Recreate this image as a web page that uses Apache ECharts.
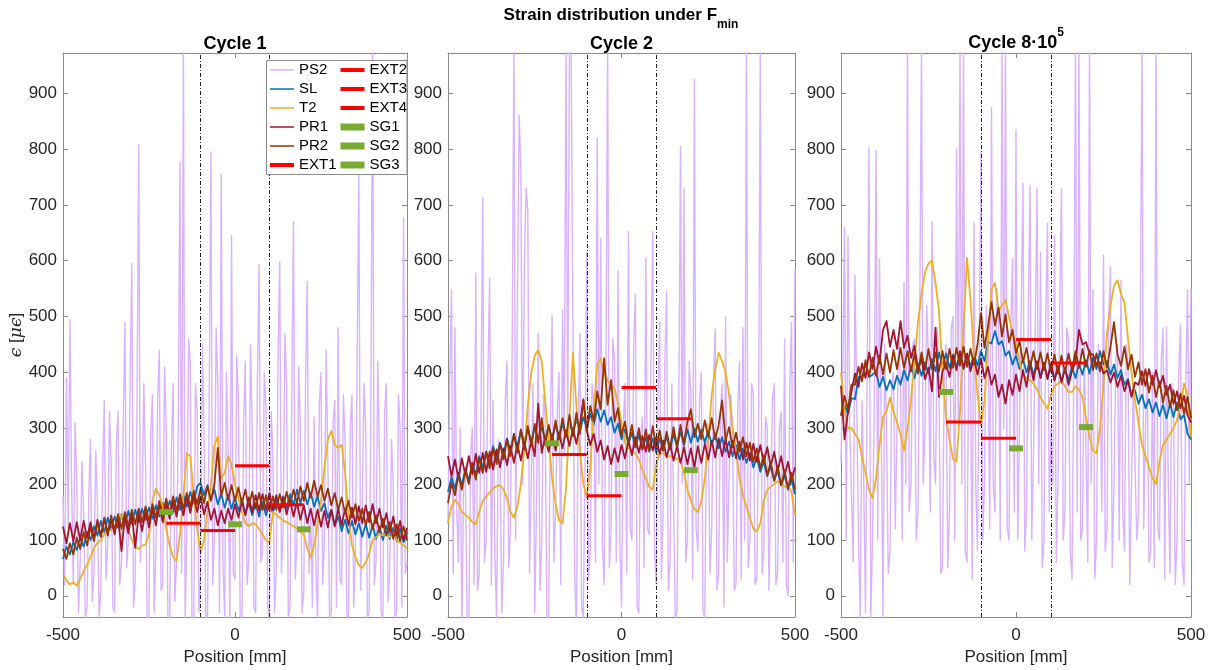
<!DOCTYPE html>
<html>
<head>
<meta charset="utf-8">
<script src="https://cdn.jsdelivr.net/npm/echarts@6/dist/echarts.min.js"></script>
<style>html,body{margin:0;padding:0;background:#fff}#c{width:1215px;height:670px}</style>
</head>
<body>
<div id="c"></div>
<script>
// ---- sample positions [mm] ----
const pos = [-500,-490,-480,-470,-460,-450,-440,-430,-420,-410,-400,-390,-380,-370,-360,-350,-340,-330,-320,-310,-300,-290,-280,-270,-260,-250,-240,-230,-220,-210,-200,-190,-180,-170,-160,-150,-140,-130,-120,-110,-100,-90,-80,-70,-60,-50,-40,-30,-20,-10,0,10,20,30,40,50,60,70,80,90,100,110,120,130,140,150,160,170,180,190,200,210,220,230,240,250,260,270,280,290,300,310,320,330,340,350,360,370,380,390,400,410,420,430,440,450,460,470,480,490,500];
// PS2 fibre positions (finer spacing)
const pos5 = [-500,-495,-490,-485,-480,-475,-470,-465,-460,-455,-450,-445,-440,-435,-430,-425,-420,-415,-410,-405,
-400,-395,-390,-385,-380,-375,-370,-365,-360,-355,-350,-345,-340,-335,-330,-325,-320,-315,-310,-305,
-300,-295,-290,-285,-280,-275,-270,-265,-260,-255,-250,-245,-240,-235,-230,-225,-220,-215,-210,-205,
-200,-195,-190,-185,-180,-175,-170,-165,-160,-155,-150,-145,-140,-135,-130,-125,-120,-115,-110,-105,
-100,-95,-90,-85,-80,-75,-70,-65,-60,-55,-50,-45,-40,-35,-30,-25,-20,-15,-10,-5,
0,5,10,15,20,25,30,35,40,45,50,55,60,65,70,75,80,85,90,95,
100,105,110,115,120,125,130,135,140,145,150,155,160,165,170,175,180,185,190,195,
200,205,210,215,220,225,230,235,240,245,250,255,260,265,270,275,280,285,290,295,
300,305,310,315,320,325,330,335,340,345,350,355,360,365,370,375,380,385,390,395,
400,405,410,415,420,425,430,435,440,445,450,455,460,465,470,475,480,485,490,495,
500];

// ---- Cycle 1 ----
const ps2_c1 = [180,20,390,120,495,200,20,310,205,-30,60,240,150,-40,-20,180,280,-10,40,260,
170,-40,10,220,350,30,90,330,240,-20,-30,270,330,20,60,300,490,50,100,380,
595,-20,30,330,808,60,150,380,230,-50,-40,290,360,-30,80,350,440,10,20,410,
300,-40,-50,260,380,-10,60,300,777,40,990,-50,120,460,420,-40,-60,380,330,-30,
40,450,280,-40,-50,350,795,20,100,480,380,-30,755,60,-40,400,260,-50,645,40,
30,430,350,-40,-60,310,420,20,60,450,300,-20,-30,380,593,60,80,400,340,-20,
-40,330,260,-30,50,420,598,40,120,470,380,-40,-20,350,670,30,90,410,300,-30,
10,380,563,40,150,-20,320,60,-50,340,400,20,100,440,240,-40,-30,310,350,-20,
480,30,20,360,280,-30,-50,300,360,-20,80,420,760,10,150,380,300,-40,-30,340,
1000,20,60,420,250,-30,-40,330,380,-10,50,280,200,-40,-30,360,300,-20,677,40,
60];
const sl_c1 = [66,88,74,96,82,104,88,114,100,124,
108,134,114,140,118,142,122,146,126,152,
130,154,132,156,136,158,138,162,142,166,
146,170,150,176,154,180,160,186,166,196,
202,180,198,172,190,164,182,158,180,156,
176,152,174,146,168,144,166,142,168,144,
166,148,172,152,178,158,182,162,190,166,
188,164,184,160,178,152,166,140,154,126,
142,116,136,112,134,110,130,106,128,104,
126,102,124,100,126,102,122,98,120,96,
114];
const t2_c1 = [38,28,20,24,18,30,45,55,70,85,
95,100,110,120,118,126,132,145,132,118,
100,88,84,90,92,110,170,192,180,160,
120,90,70,62,110,180,255,250,180,120,
78,100,150,200,270,285,210,220,250,235,
200,175,150,130,125,130,128,120,110,100,
95,150,145,140,135,132,128,125,120,115,
110,85,68,90,130,170,230,280,295,270,
265,270,220,140,90,70,55,50,60,75,
100,105,110,108,112,105,110,100,95,90,
85];
const pr1_c1 = [124,94,130,98,132,100,134,104,132,102,
136,106,140,108,138,110,144,80,142,112,
148,86,146,116,152,122,156,126,162,132,
166,138,170,142,174,144,178,148,180,150,
178,146,168,136,156,126,152,130,156,136,
164,140,170,144,176,150,180,152,182,154,
184,154,180,150,176,146,172,142,168,136,
162,130,156,126,154,124,152,122,154,124,
156,126,156,126,158,128,160,130,162,132,
164,130,156,122,148,114,142,108,134,100,
122];
const pr2_c1 = [84,66,94,74,104,84,114,90,124,98,
132,106,138,112,144,116,146,120,150,124,
154,128,156,132,160,134,164,140,170,144,
174,148,178,152,182,156,184,160,188,164,
192,166,196,170,200,265,180,202,172,198,
170,194,166,190,160,186,156,184,154,180,
152,178,154,182,158,186,162,190,166,196,
170,202,176,206,178,198,170,192,162,184,
154,176,148,170,140,164,134,156,126,150,
120,144,114,138,108,132,102,128,98,124,
100];

// ---- Cycle 2 ----
const ps2_c2 = [130,390,548,40,480,160,60,300,-60,200,220,-40,-50,250,300,20,578,10,40,330,
713,60,100,400,568,20,350,80,-40,280,250,-30,60,350,420,50,120,450,990,100,
520,860,763,200,590,730,690,40,200,380,-30,160,470,10,90,360,320,-40,-50,300,
502,60,150,330,400,20,512,250,990,300,990,970,480,40,-60,300,470,-20,-40,250,
615,30,80,380,350,60,820,200,640,90,20,400,990,50,120,460,420,60,582,100,
-20,300,380,40,652,120,100,450,540,-20,-30,280,320,50,605,120,110,430,652,80,
20,350,490,30,150,420,545,10,60,380,380,-40,-30,330,805,200,730,60,100,420,
360,30,925,120,80,350,400,-30,-40,310,300,40,120,380,478,10,40,330,380,-20,
500,60,60,360,300,10,20,340,420,30,480,100,990,50,100,380,360,20,30,300,
990,40,80,320,300,10,10,350,380,20,40,300,330,60,460,20,0,380,490,60,
585];
const sl_c2 = [186,212,192,220,198,228,206,238,216,250,
230,258,238,268,246,274,252,282,260,290,
268,296,274,300,276,302,278,302,280,304,
282,306,284,308,286,310,290,316,294,320,
300,326,306,334,312,332,306,320,292,308,
280,298,272,292,266,288,262,284,258,282,
256,282,260,286,262,290,266,294,270,298,
274,300,276,298,274,296,270,290,264,284,
258,276,250,270,244,264,238,256,230,248,
222,240,214,232,206,224,198,216,190,208,
182];
const t2_c2 = [130,160,172,165,150,145,140,132,128,150,
170,178,185,192,196,198,190,175,150,140,
160,200,260,340,400,430,440,420,350,280,
210,165,135,130,190,320,435,340,260,200,
176,230,330,415,425,400,385,380,370,345,
310,275,265,260,255,245,225,210,195,190,
235,255,255,250,250,248,245,240,220,190,
170,155,150,170,210,280,360,405,435,420,
400,360,300,260,210,180,160,140,120,115,
130,170,190,195,200,205,200,195,200,185,
145];
const pr1_c2 = [250,214,244,210,246,216,250,218,254,220,
256,222,258,226,262,230,264,234,268,238,
272,242,276,246,278,250,344,256,284,258,
288,260,292,264,296,268,300,272,306,350,
296,270,290,258,278,244,268,236,264,240,
270,246,278,252,284,256,286,258,288,260,
284,254,278,248,272,242,268,238,266,236,
264,230,268,238,272,244,278,248,282,250,
280,248,278,246,276,244,274,242,272,240,
270,238,266,232,258,224,250,216,240,206,
230];
const pr2_c2 = [166,202,180,216,190,224,200,238,208,246,
220,258,228,264,236,272,244,280,250,290,
256,298,262,304,268,308,274,318,270,306,
276,314,280,318,284,324,286,328,290,352,
294,340,312,366,334,425,342,386,312,336,
286,312,272,306,266,300,262,298,260,304,
264,296,260,294,264,302,268,306,272,312,
334,284,308,280,314,284,318,280,306,350,
278,302,266,292,258,284,250,274,240,264,
228,252,216,240,206,232,198,224,192,220,
190];

// ---- Cycle 8e5 ----
const ps2_c3 = [240,400,660,100,644,300,300,60,574,350,100,-40,350,200,-30,420,803,-40,100,330,
797,100,603,300,-40,450,300,40,80,380,400,120,120,470,380,100,561,200,990,150,
200,450,460,100,150,500,990,200,300,520,420,150,670,250,200,480,380,40,50,400,
450,50,150,480,500,100,800,300,990,200,990,80,60,420,400,30,668,200,80,450,
794,100,200,520,450,120,874,200,150,550,500,100,990,300,990,120,100,480,603,150,
834,100,300,520,739,80,150,500,735,100,250,480,729,200,615,50,100,500,667,150,
300,200,645,60,200,520,730,100,150,480,460,80,30,400,990,150,990,100,120,450,
450,60,990,200,548,30,100,450,400,150,610,80,120,500,590,50,200,420,450,100,
565,150,80,450,420,20,20,380,380,100,150,460,990,120,300,400,60,80,400,50,
990,120,100,420,480,30,482,200,40,380,350,20,100,400,485,60,20,380,548,200,
548];
const sl_c3 = [322,342,326,354,352,392,390,416,392,396,
402,374,392,368,386,370,394,378,404,386,
410,390,416,394,418,398,424,402,436,410,
434,408,432,410,430,406,432,410,434,412,
438,420,454,452,474,450,456,430,438,414,
430,406,424,400,420,396,416,392,414,390,
410,386,408,384,406,386,410,390,416,396,
422,398,426,406,438,414,420,396,414,390,
404,378,388,360,368,344,360,336,352,328,
346,322,342,318,344,320,346,316,324,290,
280];
const t2_c3 = [400,330,300,300,290,280,250,220,190,175,
210,270,320,330,355,330,310,290,260,300,
350,420,490,540,580,595,600,560,510,400,
320,280,245,240,330,480,605,530,430,360,
305,350,450,550,560,510,520,530,500,470,
450,420,395,390,385,380,370,355,345,335,
360,375,380,385,375,365,365,375,370,355,
320,285,260,255,300,380,470,520,555,565,
540,525,460,400,350,310,270,250,230,210,
200,240,270,280,290,300,315,340,380,360,
285];
const pr1_c3 = [376,280,330,366,398,374,416,390,436,406,
446,416,476,492,446,476,442,492,444,466,
426,448,404,424,388,408,366,480,356,402,
416,392,430,404,438,408,434,402,426,396,
424,390,410,378,396,356,378,344,386,360,
396,366,404,374,416,386,420,390,418,388,
416,386,412,382,408,378,402,420,476,450,
454,434,432,414,418,398,404,382,400,374,
394,366,386,356,382,378,402,376,406,378,
404,374,394,360,378,344,366,336,358,324,
310];
const pr2_c3 = [324,358,334,378,378,410,384,422,392,426,
394,430,396,434,400,440,406,444,408,438,
402,434,398,436,404,442,406,436,402,438,
406,442,408,444,412,446,410,442,414,450,
506,444,482,526,484,516,464,504,454,476,
434,456,418,444,408,438,406,436,404,434,
402,432,398,430,400,434,404,438,408,442,
410,440,404,434,402,438,408,446,490,432,
412,446,406,432,392,418,378,406,364,394,
356,384,346,376,338,368,332,362,326,356,
318];

// ---- extensometers and strain gauges ----
const extNames = ['EXT1','EXT2','EXT3','EXT4'];
const extRanges = [[-200,-100],[-100,0],[0,100],[100,200]];
const ext_c1 = [130,117,233,163];
const ext_c2 = [253,179,373,317];
const ext_c3 = [311,282,459,417];
const sgNames = ['SG1','SG2','SG3'];
const sgRanges = [[-220,-180],[-20,20],[180,220]];
const sg_c1 = [150,128,119];
const sg_c2 = [273,218,225];
const sg_c3 = [365,264,302];
const zoneBounds = [-100,100];

const FONT = '"Liberation Sans", Arial, Helvetica, sans-serif';
const COL = {PS2:'#d9b3ff', SL:'#0072bd', T2:'#edb120', PR1:'#a2142f', PR2:'#993300', EXT:'#ff0000', SG:'#77ac30'};
const AXC = '#8c8c8c', TXT = '#262626';

const panels = [
  {left:63, width:344, ps2:ps2_c1, sl:sl_c1, t2:t2_c1, pr1:pr1_c1, pr2:pr2_c1, ext:ext_c1, sg:sg_c1},
  {left:448, width:347, ps2:ps2_c2, sl:sl_c2, t2:t2_c2, pr1:pr1_c2, pr2:pr2_c2, ext:ext_c2, sg:sg_c2},
  {left:841, width:350, ps2:ps2_c3, sl:sl_c3, t2:t2_c3, pr1:pr1_c3, pr2:pr2_c3, ext:ext_c3, sg:sg_c3}
];
const TOP = 53, HEIGHT = 564, YMIN = -38, YMAX = 972;

function zip(xs, v){ return xs.map((x,i)=>[x, v[i]]); }

const grid = [], xAxis = [], yAxis = [], series = [];
panels.forEach((p, i) => {
  grid.push({left:p.left, top:TOP, width:p.width, height:HEIGHT, containLabel:false, outerBoundsMode:'none'});
  const xb = {type:'value', gridIndex:i, min:-500, max:500, interval:500, position:'bottom',
    axisLine:{show:true, onZero:false, lineStyle:{color:AXC, width:1}},
    axisTick:{show:true, inside:true, length:5, lineStyle:{color:AXC}},
    axisLabel:{show:true, fontSize:17, color:TXT, fontFamily:FONT, margin:10},
    splitLine:{show:false},
    name:'Position [mm]', nameLocation:'middle', nameGap:32,
    nameTextStyle:{fontSize:17, color:TXT, fontFamily:FONT}};
  const xt = {type:'value', gridIndex:i, min:-500, max:500, interval:500, position:'top',
    axisLine:{show:true, onZero:false, lineStyle:{color:AXC, width:1}},
    axisTick:{show:true, inside:true, length:5, lineStyle:{color:AXC}},
    axisLabel:{show:false}, splitLine:{show:false}};
  xAxis.push(xb, xt);
  const yl = {type:'value', gridIndex:i, min:YMIN, max:YMAX, splitNumber:10, position:'left',
    axisLine:{show:true, onZero:false, lineStyle:{color:AXC, width:1}},
    axisTick:{show:true, inside:true, length:5, lineStyle:{color:AXC}},
    axisLabel:{show:true, fontSize:17, color:TXT, fontFamily:FONT, margin:6, showMinLabel:false, showMaxLabel:false},
    splitLine:{show:false}};
  if (i === 0) {
    yl.name = '{i|\u03f5} [{i|\u03bc\u03f5}]';
    yl.nameLocation = 'middle';
    yl.nameGap = 34;
    yl.nameRotate = 90;
    yl.nameTextStyle = {fontSize:17, color:TXT, fontFamily:FONT,
      rich:{i:{fontStyle:'italic', fontSize:17, color:TXT, fontFamily:'"DejaVu Serif", serif'}}};
  }
  const yr = {type:'value', gridIndex:i, min:YMIN, max:YMAX, splitNumber:10, position:'right',
    axisLine:{show:true, onZero:false, lineStyle:{color:AXC, width:1}},
    axisTick:{show:true, inside:true, length:5, lineStyle:{color:AXC}},
    axisLabel:{show:false}, splitLine:{show:false}};
  yAxis.push(yl, yr);

  const xi = 2*i, yi = 2*i;
  const ln = (name, data, color, width, z) => ({
    name, type:'line', xAxisIndex:xi, yAxisIndex:yi, data, symbol:'none', showSymbol:false,
    lineStyle:{color, width, join:'round'}, itemStyle:{color}, z, silent:true, animation:false,
    emphasis:{disabled:true}
  });
  series.push(ln('PS2', zip(pos5, p.ps2), COL.PS2, 1.4, 2));
  series.push(ln('SL', zip(pos, p.sl), COL.SL, 1.8, 3));
  series.push(ln('T2', zip(pos, p.t2), COL.T2, 1.8, 3));
  series.push(ln('PR1', zip(pos, p.pr1), COL.PR1, 1.8, 3));
  series.push(ln('PR2', zip(pos, p.pr2), COL.PR2, 1.8, 3));
  extNames.forEach((n, k) => {
    series.push(ln(n, [[extRanges[k][0], p.ext[k]], [extRanges[k][1], p.ext[k]]], COL.EXT, 3, 4));
  });
  sgNames.forEach((n, k) => {
    series.push(ln(n, [[sgRanges[k][0], p.sg[k]], [sgRanges[k][1], p.sg[k]]], COL.SG, 6, 4));
  });
  series.push({type:'line', xAxisIndex:xi, yAxisIndex:yi, data:[], silent:true, z:3,
    markLine:{symbol:'none', silent:true, animation:false, label:{show:false},
      lineStyle:{color:'#222', type:[4,2,1,2], width:1},
      emphasis:{disabled:true},
      data: zoneBounds.map(v => ({xAxis:v}))}});
});

const legendCommon = {orient:'vertical', top:60.5, itemWidth:24, itemHeight:14, itemGap:0, padding:0,
  selectedMode:false, z:10, itemStyle:{opacity:0},
  textStyle:{fontSize:15, lineHeight:19, color:'#000', fontFamily:FONT}};
const li = (name, w) => ({name, lineStyle:{width:w}, itemStyle:{opacity:0}});

const option = {
  animation:false,
  textStyle:{fontFamily:FONT},
  grid, xAxis, yAxis, series,
  legend:[
    Object.assign({left:268, data:[li('PS2',1.5), li('SL',1.5), li('T2',1.5), li('PR1',1.5), li('PR2',1.5), li('EXT1',4)]}, legendCommon),
    Object.assign({left:337, data:[li('EXT2',4), li('EXT3',4), li('EXT4',4), li('SG1',7), li('SG2',7), li('SG3',7)]}, legendCommon)
  ],
  graphic:[
    {type:'rect', z:8, shape:{x:266.5, y:60.5, width:140.5, height:114}, style:{fill:'#fff', stroke:AXC, lineWidth:1}},
    {type:'text', z:10, x:621, y:7, style:{text:'{a|Strain distribution under F}{b|min}', align:'center', verticalAlign:'top',
      rich:{a:{fontSize:17, fontWeight:'bold', lineHeight:20, verticalAlign:'top', fontFamily:FONT, fill:'#000', color:'#000'},
            b:{fontSize:12, fontWeight:'bold', lineHeight:12, padding:[12,0,0,0], verticalAlign:'top', fontFamily:FONT, fill:'#000', color:'#000'}}}},
    {type:'text', z:10, x:235, y:44, style:{text:'Cycle 1', font:'bold 18px ' + FONT, align:'center', verticalAlign:'middle', fill:'#000'}},
    {type:'text', z:10, x:621.5, y:44, style:{text:'Cycle 2', font:'bold 18px ' + FONT, align:'center', verticalAlign:'middle', fill:'#000'}},
    {type:'text', z:10, x:1016, y:30, style:{text:'{a|Cycle 8\u00b710}{s|5}', align:'center', verticalAlign:'top',
      rich:{a:{fontSize:18, fontWeight:'bold', lineHeight:22, verticalAlign:'bottom', fontFamily:FONT, fill:'#000', color:'#000'},
            s:{fontSize:12, fontWeight:'bold', lineHeight:12, padding:[0,0,13,0], verticalAlign:'bottom', fontFamily:FONT, fill:'#000', color:'#000'}}}}
  ]
};

const chart = echarts.init(document.getElementById('c'), null, {renderer:'canvas'});
chart.setOption(option);
</script>
</body>
</html>
